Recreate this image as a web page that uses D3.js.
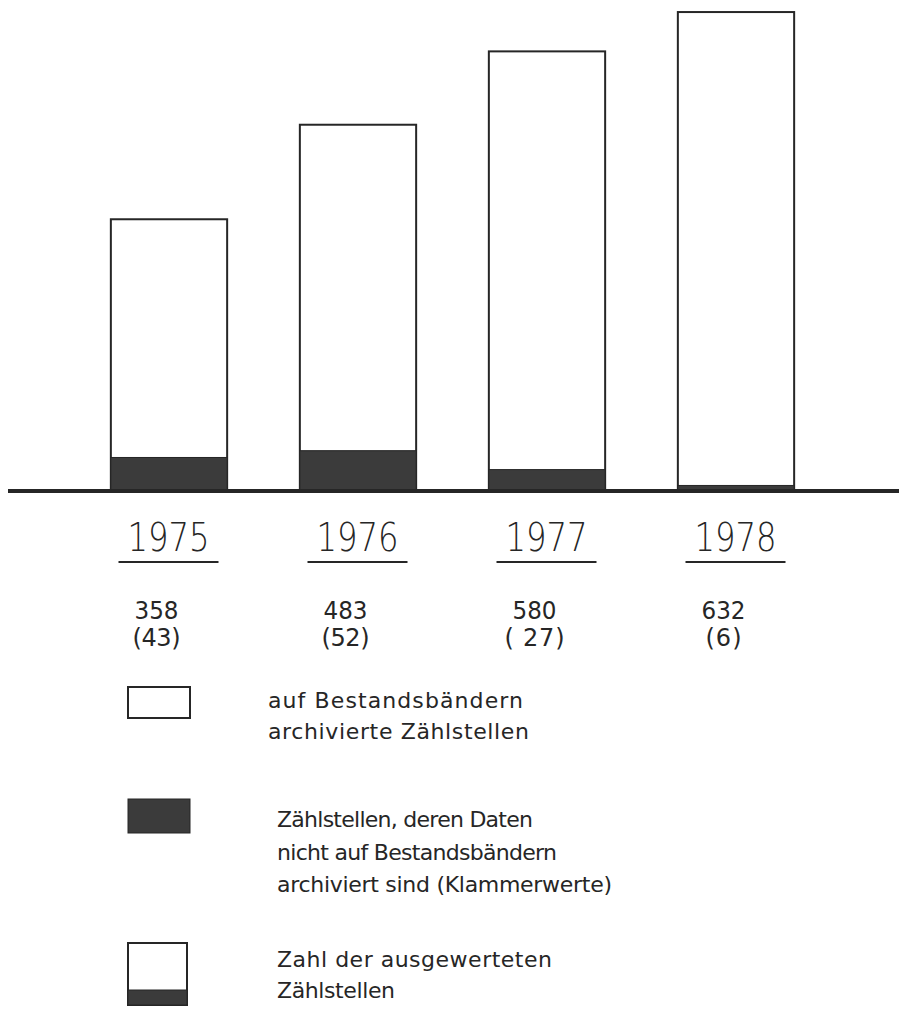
<!DOCTYPE html>
<html>
<head>
<meta charset="utf-8">
<script src="https://cdn.jsdelivr.net/npm/d3@7"></script>
<style>
  html, body { margin: 0; padding: 0; background: #fff; }
  svg { display: block; }
  text { font-family: "DejaVu Sans", sans-serif; fill: #262626; }
</style>
</head>
<body>
<svg id="chart" width="899" height="1009"></svg>
<script>
const years = ["1975", "1976", "1977", "1978"];
const totals = [358, 483, 580, 632];
const notArchived = [43, 52, 27, 6];
const totalLabels = ["358", "483", "580", "632"];
const notArchivedLabels = ["(43)", "(52)", "( 27)", "(6)"];
const legendTexts = [
  ["auf Bestandsbändern", "archivierte Zählstellen"],
  ["Zählstellen, deren Daten", "nicht auf Bestandsbändern", "archiviert sind (Klammerwerte)"],
  ["Zahl der ausgewerteten", "Zählstellen"]
];

const ink = "#262626";
const dark = "#3b3b3b";

const svg = d3.select("#chart");

const x = d3.scaleBand().domain(years).range([74, 830]).paddingInner(0.39).paddingOuter(0.195);
const y = d3.scaleLinear().domain([0, 640]).range([490, 6]);

const data = years.map((yr, i) => ({ year: yr, total: totals[i], na: notArchived[i], tl: totalLabels[i], nl: notArchivedLabels[i] }));

svg.selectAll("rect.total").data(data).join("rect")
  .attr("class", "total")
  .attr("x", d => x(d.year))
  .attr("y", d => y(d.total))
  .attr("width", x.bandwidth() + 1)
  .attr("height", d => y(0) - y(d.total))
  .attr("fill", "#fff")
  .attr("stroke", ink)
  .attr("stroke-width", 2);

svg.selectAll("rect.na").data(data).join("rect")
  .attr("class", "na")
  .attr("x", d => x(d.year))
  .attr("y", d => y(d.na))
  .attr("width", x.bandwidth() + 1)
  .attr("height", d => y(0) - y(d.na))
  .attr("fill", dark)
  .attr("stroke", ink)
  .attr("stroke-width", 1);

svg.append("line")
  .attr("x1", 8).attr("x2", 899)
  .attr("y1", y(0) + 1).attr("y2", y(0) + 1)
  .attr("stroke", ink).attr("stroke-width", 4);

const cx = d => x(d.year) + x.bandwidth() / 2;
svg.selectAll("text.year").data(data).join("text")
  .attr("class", "year")
  .attr("x", d => cx(d))
  .attr("y", 551)
  .attr("text-anchor", "middle")
  .attr("font-size", 39)
  .attr("textLength", 82)
  .attr("lengthAdjust", "spacingAndGlyphs")
  .style("font-weight", 300)
  .text(d => d.year);

svg.selectAll("line.ul").data(data).join("line")
  .attr("class", "ul")
  .attr("x1", d => cx(d) - 50).attr("x2", d => cx(d) + 50)
  .attr("y1", 562).attr("y2", 562)
  .attr("stroke", ink).attr("stroke-width", 2);

svg.selectAll("text.tot").data(data).join("text")
  .attr("class", "tot")
  .attr("x", d => cx(d) - 12)
  .attr("y", 619)
  .attr("text-anchor", "middle")
  .attr("font-size", 24)
  .attr("textLength", 44)
  .attr("lengthAdjust", "spacingAndGlyphs")
  .text(d => d.tl);

svg.selectAll("text.nal").data(data).join("text")
  .attr("class", "nal")
  .attr("x", d => cx(d) - 12)
  .attr("y", 646)
  .attr("text-anchor", "middle")
  .attr("font-size", 24)
  .attr("textLength", d => d.nl.length * 12)
  .attr("lengthAdjust", "spacing")
  .text(d => d.nl);

const lg = svg.append("g");
lg.append("rect").attr("x", 128).attr("y", 687).attr("width", 62).attr("height", 31)
  .attr("fill", "#fff").attr("stroke", ink).attr("stroke-width", 2);
lg.append("rect").attr("x", 128).attr("y", 799).attr("width", 62).attr("height", 34)
  .attr("fill", dark).attr("stroke", ink).attr("stroke-width", 1);
lg.append("rect").attr("x", 128).attr("y", 943).attr("width", 59).attr("height", 62)
  .attr("fill", "#fff").attr("stroke", ink).attr("stroke-width", 2);
lg.append("rect").attr("x", 128).attr("y", 990).attr("width", 59).attr("height", 15)
  .attr("fill", dark).attr("stroke", ink).attr("stroke-width", 1);

const legendLayout = [
  { x: 268, ys: [708, 739], widths: [255, 261] },
  { x: 277, ys: [827, 860, 892], widths: [256, 280, 335] },
  { x: 277, ys: [967, 998], widths: [275, 118] }
];

legendTexts.forEach((lines, i) => {
  const L = legendLayout[i];
  lg.selectAll(null).data(lines).join("text")
    .attr("x", L.x)
    .attr("y", (d, j) => L.ys[j])
    .attr("font-size", 22)
    .attr("textLength", (d, j) => L.widths[j])
    .attr("lengthAdjust", "spacing")
    .text(d => d);
});
</script>
</body>
</html>
